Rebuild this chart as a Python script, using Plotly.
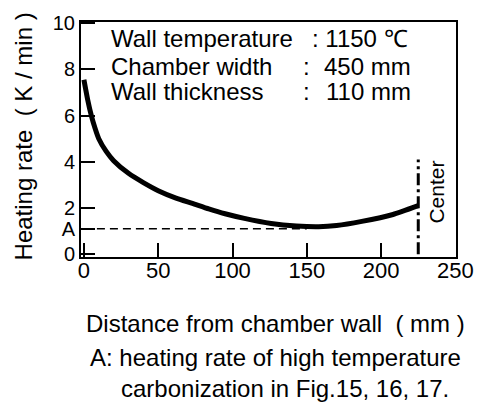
import plotly.graph_objects as go

# Heating rate profile across half the coking chamber (wall -> center)
distance_mm = [0, 2.5, 5, 7.5, 10, 15, 20, 30, 40, 50, 62, 73, 84, 95, 108, 126, 143, 158, 170, 187, 208, 225]
heating_rate = [7.55, 6.7, 6.0, 5.45, 5.0, 4.45, 4.05, 3.5, 3.1, 2.75, 2.43, 2.2, 1.96, 1.75, 1.55, 1.33, 1.22, 1.19, 1.24, 1.42, 1.72, 2.1]

# Reference level "A" (high temperature carbonization)
rate_a = 1.1
a_line_x = [0, 150]

# Chamber center marker
center_x = 225
center_top = 4.1

x_ticks = [0, 50, 100, 150, 200, 250]
y_ticks = [0, rate_a, 2, 4, 6, 8, 10]
y_tick_text = ["0", "A", "2", "4", "6", "8", "10"]

conditions = [
    ("Wall temperature", ": 1150 ℃"),
    ("Chamber width", "450 mm"),
    ("Wall thickness", "110 mm"),
]

FONT = "Liberation Sans, Arial, Helvetica, sans-serif"
TXT = 24
W, H = 486, 408
L, R, T, B = 81, 18, 15, 151
PW, PH = W - L - R, H - T - B


def px_x(px):
    return (px - L) / PW


def px_y(py):
    return (H - B - py) / PH


def note(x, y, text, anchor="left", size=TXT, angle=0):
    return dict(
        x=px_x(x), y=px_y(y), xref="paper", yref="paper",
        text=text, showarrow=False, xanchor=anchor, yanchor="middle",
        textangle=angle, font=dict(family=FONT, size=size, color="black"),
    )


fig = go.Figure()

fig.add_trace(go.Scatter(
    x=a_line_x, y=[rate_a, rate_a], mode="lines",
    line=dict(color="black", width=1.5, dash="8px,5px"),
    hoverinfo="skip", showlegend=False,
))
fig.add_trace(go.Scatter(
    x=[center_x, center_x], y=[0, center_top], mode="lines",
    line=dict(color="black", width=3, dash="12px,4px,3px,4px"),
    hoverinfo="skip", showlegend=False,
))
fig.add_trace(go.Scatter(
    x=distance_mm, y=heating_rate, mode="lines",
    line=dict(color="black", width=5, shape="spline", smoothing=0.5),
    showlegend=False,
))

annotations = []
row_y = [32, 61, 87]
for i, (label, value) in enumerate(conditions):
    annotations.append(note(110, row_y[i], label))
    if i == 0:
        annotations.append(note(317, row_y[i], value))
    else:
        annotations.append(note(314, row_y[i], ":", anchor="center"))
        annotations.append(note(424, row_y[i], value, anchor="right"))

annotations.append(note(448, 190, "Center", anchor="center", size=21, angle=-90))
annotations.append(note(22, 133, "Heating rate\u00a0\u00a0( K / min )", anchor="center", angle=-90))
annotations.append(note(282, 325, "Distance from chamber wall\u00a0\u00a0( mm )", anchor="center"))
annotations.append(note(88, 361, "A: heating rate of high temperature"))
annotations.append(note(120, 392, "carbonization in Fig.15, 16, 17."))

axis_common = dict(
    showline=True, linecolor="black", linewidth=2, mirror=True,
    ticks="inside", ticklen=14, tickwidth=1.5, tickcolor="black",
    showgrid=False, zeroline=False,
)

fig.update_layout(
    width=W, height=H,
    margin=dict(l=L, r=R, t=T, b=B, pad=0),
    paper_bgcolor="white", plot_bgcolor="white",
    xaxis=dict(range=[-1.96, 250.4], tickvals=x_ticks, ticklabelstandoff=-7,
               tickfont=dict(family=FONT, size=22, color="black"), **axis_common),
    yaxis=dict(range=[-0.12, 10.05], tickvals=y_ticks, ticktext=y_tick_text,
               tickfont=dict(family=FONT, size=20, color="black"), **axis_common),
    annotations=annotations,
    showlegend=False,
)

fig.write_html("out.html", config={"displayModeBar": False})
